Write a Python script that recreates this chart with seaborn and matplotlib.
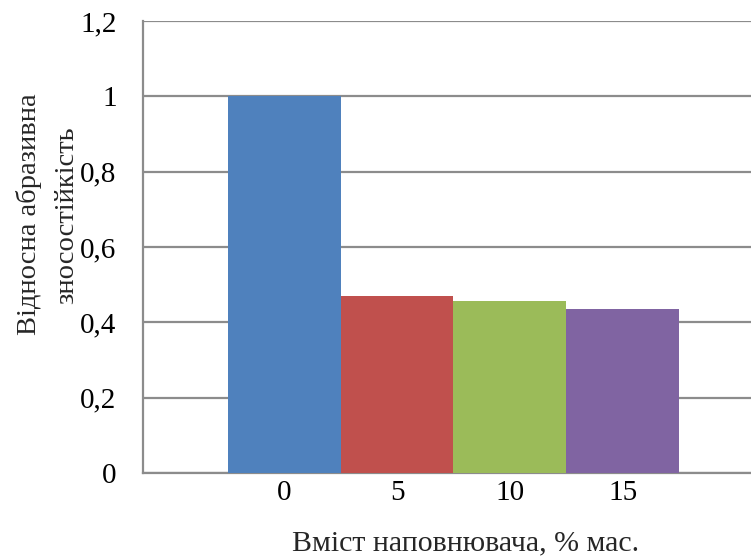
import matplotlib
matplotlib.use("Agg")
import matplotlib.pyplot as plt
import seaborn as sns
import pandas as pd

# Filler content (% by mass) and relative abrasive wear resistance
filler_content = ["0", "5", "10", "15"]
wear_resistance = [1.0, 0.47, 0.456, 0.435]
bar_colors = ["#4F81BD", "#C0504D", "#9BBB59", "#8064A2"]
y_ticks = [0, 0.2, 0.4, 0.6, 0.8, 1.0, 1.2]
y_tick_labels = ["0", "0,2", "0,4", "0,6", "0,8", "1", "1,2"]

sns.set_theme(style="white")
plt.rcParams["font.family"] = ["Liberation Serif", "DejaVu Serif"]

df = pd.DataFrame({"content": filler_content, "value": wear_resistance})

fig = plt.figure(figsize=(7.51, 5.6), dpi=100)
ax = fig.add_axes([143 / 751, 1 - 473 / 560, 1 - 143 / 751, (473 - 21) / 560])

sns.barplot(data=df, x="content", y="value", hue="content",
            palette=bar_colors, width=1.0, legend=False, ax=ax,
            saturation=1, linewidth=0, zorder=3)

ax.set_ylim(0, 1.2)
ax.set_xlim(-1.252, 4.137)
ax.set_yticks(y_ticks)
ax.set_yticklabels(y_tick_labels)
ax.yaxis.grid(True, color="#8c8c8c", linewidth=1.6, zorder=0)
ax.set_axisbelow(True)

for s in ["top", "right"]:
    ax.spines[s].set_visible(False)
for s in ["left", "bottom"]:
    ax.spines[s].set_color("#8c8c8c")
    ax.spines[s].set_linewidth(1.6)

ax.tick_params(axis="y", length=0, pad=19, labelsize=21, labelcolor="black")
ax.tick_params(axis="x", length=0, pad=5, labelsize=21, labelcolor="black")
ax.set_xlabel("")
ax.set_ylabel("")

fig.text(466 / 751, 1 - 543 / 560, "Вміст наповнювача, % мас.",
         ha="center", va="center", fontsize=21.5)
fig.text(29 / 751, 1 - 214 / 560, "Відносна абразивна",
         ha="center", va="center", rotation=90, fontsize=20.5)
fig.text(67 / 751, 1 - 215 / 560, "зносостійкість",
         ha="center", va="center", rotation=90, fontsize=20.5)

fig.savefig("out.png", dpi=100)
